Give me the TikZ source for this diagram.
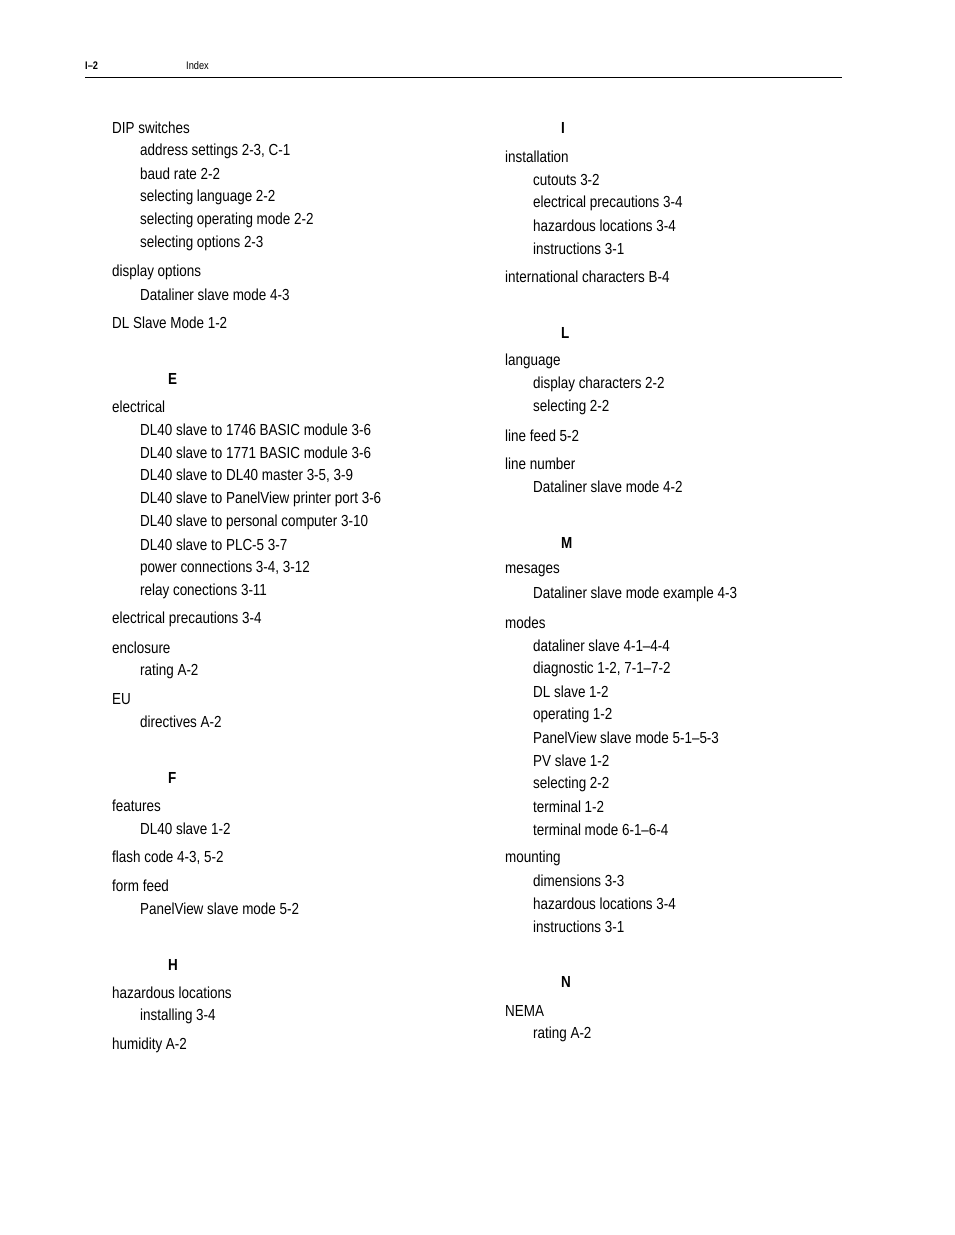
\documentclass[tikz,border=0pt]{standalone}
\usepackage{fontspec}
\setmainfont[FakeStretch=0.84]{Liberation Sans}
\begin{document}
\begin{tikzpicture}[x=1pt,y=-1pt,
  txt/.style={anchor=west,inner sep=0pt,font=\fontsize{16}{18}\selectfont},
  hd/.style={anchor=west,inner sep=0pt,font=\fontsize{16}{18}\selectfont\bfseries}]
\useasboundingbox (0,0) rectangle (954,1235);
\node[anchor=west,inner sep=0pt,font=\fontsize{11}{12}\selectfont\bfseries] (pg) at (85,66) {I–2};
\node[anchor=west,inner sep=0pt,font=\fontsize{11}{12}\selectfont] (ix) at (186,66) {Index};
\draw[line width=0.8pt] (85,77) -- (842,77);
% left column main
\foreach \y/\t in {128/{DIP switches},272/{display options},323/{DL Slave Mode 1-2},407/{electrical},619/{electrical precautions 3-4},648/{enclosure},699/{EU},806/{features},858/{flash code 4-3, 5-2},886/{form feed},993/{hazardous locations},1045/{humidity A-2}}
  \node[txt] at (112,\y) {\t};
\foreach \y/\t in {151/{address settings 2-3, C-1},174/{baud rate 2-2},197/{selecting language 2-2},220/{selecting operating mode 2-2},243/{selecting options 2-3},295/{Dataliner slave mode 4-3},430/{DL40 slave to 1746 BASIC module 3-6},453/{DL40 slave to 1771 BASIC module 3-6},476/{DL40 slave to DL40 master 3-5, 3-9},499/{DL40 slave to PanelView printer port 3-6},522/{DL40 slave to personal computer 3-10},545/{DL40 slave to PLC-5 3-7},568/{power connections 3-4, 3-12},591/{relay conections 3-11},671/{rating A-2},722/{directives A-2},829/{DL40 slave 1-2},909/{PanelView slave mode 5-2},1016/{installing 3-4}}
  \node[txt] at (140,\y) {\t};
\foreach \y/\t in {379/E,778/F,965/H}
  \node[hd] at (168,\y) {\t};
% right column
\foreach \y/\t in {128/I,333/L,543/M,982/N}
  \node[hd] at (561,\y) {\t};
\foreach \y/\t in {157/{installation},277/{international characters B-4},361/{language},436/{line feed 5-2},464/{line number},571/{mesages},623/{modes},858/{mounting},1011/{NEMA}}
  \node[txt] at (505,\y) {\t};
\foreach \y/\t in {180/{cutouts 3-2},203/{electrical precautions 3-4},226/{hazardous locations 3-4},249/{instructions 3-1},384/{display characters 2-2},407/{selecting 2-2},487/{Dataliner slave mode 4-2},594/{Dataliner slave mode example 4-3},646/{dataliner slave 4-1–4-4},669/{diagnostic 1-2, 7-1–7-2},692/{DL slave 1-2},715/{operating 1-2},738/{PanelView slave mode 5-1–5-3},761/{PV slave 1-2},784/{selecting 2-2},807/{terminal 1-2},830/{terminal mode 6-1–6-4},881/{dimensions 3-3},904/{hazardous locations 3-4},927/{instructions 3-1},1034/{rating A-2}}
  \node[txt] at (533,\y) {\t};
\end{tikzpicture}
\end{document}
